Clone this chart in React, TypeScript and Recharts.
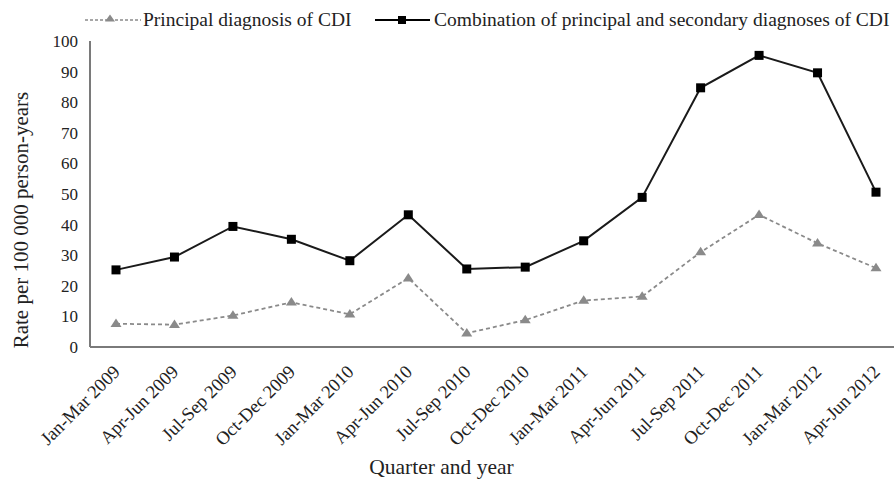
import React from "react";
import { LineChart, Line, XAxis, YAxis } from "recharts";

const quarters = [
  "Jan-Mar 2009", "Apr-Jun 2009", "Jul-Sep 2009", "Oct-Dec 2009",
  "Jan-Mar 2010", "Apr-Jun 2010", "Jul-Sep 2010", "Oct-Dec 2010",
  "Jan-Mar 2011", "Apr-Jun 2011", "Jul-Sep 2011", "Oct-Dec 2011",
  "Jan-Mar 2012", "Apr-Jun 2012",
];
const principal = [7.6, 7.3, 10.3, 14.6, 10.7, 22.5, 4.5, 8.8, 15.2, 16.5, 31, 43.2, 33.9, 25.8];
const combination = [25.2, 29.4, 39.4, 35.2, 28.2, 43.2, 25.5, 26.1, 34.7, 48.9, 84.7, 95.3, 89.6, 50.6];
const yTicks = [0, 10, 20, 30, 40, 50, 60, 70, 80, 90, 100];

const principalName = "Principal diagnosis of CDI";
const combinationName = "Combination of principal and secondary diagnoses of CDI";

const data = quarters.map((q, i) => ({ q, principal: principal[i], combination: combination[i] }));

const FONT = "'Liberation Serif', 'Times New Roman', serif";
const TEXT = "#222";
const GRAY = "#8a8a8a";
const AXIS = "#7a7a7a";

const Square = (props: any) => {
  const { cx, cy, index } = props;
  if (cx == null || cy == null) return null;
  return <rect key={`s${index}`} x={cx - 4.5} y={cy - 4.5} width={9} height={9} fill="#000" />;
};

const Triangle = (props: any) => {
  const { cx, cy, index } = props;
  if (cx == null || cy == null) return null;
  const h = 8.5;
  const w = 5.5;
  return (
    <polygon
      key={`t${index}`}
      points={`${cx},${cy - h * 0.62} ${cx + w},${cy + h * 0.38} ${cx - w},${cy + h * 0.38}`}
      fill={GRAY}
    />
  );
};

const XTick = (props: any) => {
  const { x, y, payload } = props;
  const tx = x + 5;
  const ty = y + 26;
  return (
    <text
      x={tx}
      y={ty}
      transform={`rotate(-45 ${tx} ${ty})`}
      textAnchor="end"
      fontSize={18.5}
      fontFamily={FONT}
      fill={TEXT}
    >
      {payload.value}
    </text>
  );
};

const LegendBlock = () => (
  <g>
    <line x1={85} y1={20} x2={141} y2={20} stroke={GRAY} strokeWidth={1.6} strokeDasharray="3 2" />
    <polygon points="110,14.5 115,21.5 105,21.5" fill={GRAY} />
    <text x={143} y={26} fontSize={19.5} fontFamily={FONT} fill={TEXT}>
      {principalName}
    </text>
    <line x1={375} y1={20} x2={430} y2={20} stroke="#000" strokeWidth={2} />
    <rect x={398} y={16} width={8} height={8} fill="#000" />
    <text x={434} y={26} fontSize={19.5} fontFamily={FONT} fill={TEXT}>
      {combinationName}
    </text>
  </g>
);

export default function App() {
  return (
    <div style={{ position: "absolute", left: 0, top: 0, width: 894, height: 481, background: "#fff" }}>
      <LineChart
        width={894}
        height={481}
        data={data}
        margin={{ top: 41, right: 0, bottom: 0, left: 0 }}
      >
        <XAxis
          dataKey="q"
          type="category"
          interval={0}
          padding={{ left: 26, right: 18 }}
          height={134}
          tickLine={false}
          tickSize={0}
          tickMargin={0}
          axisLine={{ stroke: AXIS, strokeWidth: 2 }}
          tick={<XTick />}
          label={(p: any) => (
            <text x={441.5} y={474} textAnchor="middle" fontSize={21.5} fontFamily={FONT} fill={TEXT}>
              Quarter and year
            </text>
          )}
        />
        <YAxis
          domain={[0, 100]}
          ticks={yTicks}
          interval={0}
          width={90}
          tickLine={false}
          tickSize={0}
          tickMargin={12}
          axisLine={{ stroke: AXIS, strokeWidth: 2 }}
          tick={{ fontSize: 17, fontFamily: FONT, fill: TEXT }}
          label={(p: any) => (
            <text
              x={28}
              y={220}
              transform="rotate(-90 28 220)"
              textAnchor="middle"
              fontSize={21}
              fontFamily={FONT}
              fill={TEXT}
            >
              Rate per 100 000 person-years
            </text>
          )}
        />
        <Line
          dataKey="principal"
          name={principalName}
          stroke={GRAY}
          strokeWidth={1.8}
          strokeDasharray="4 3"
          dot={<Triangle />}
          activeDot={false}
          isAnimationActive={false}
        />
        <Line
          dataKey="combination"
          name={combinationName}
          stroke="#1a1a1a"
          strokeWidth={2}
          dot={<Square />}
          activeDot={false}
          isAnimationActive={false}
        />
        <LegendBlock />
      </LineChart>
    </div>
  );
}
